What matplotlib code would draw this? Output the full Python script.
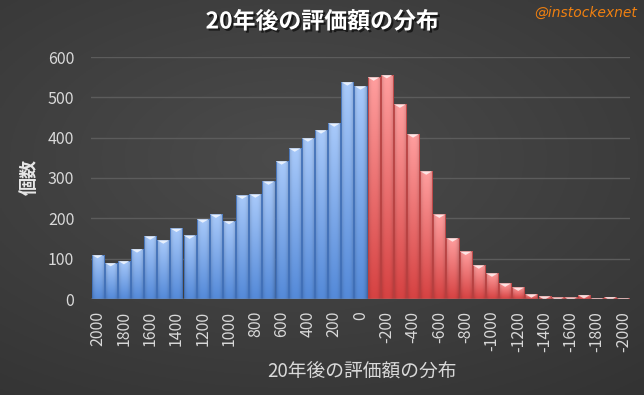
import numpy as np
import matplotlib.pyplot as plt
from matplotlib import patheffects
from matplotlib.patches import Polygon

plt.rcParams['font.family'] = ['Noto Sans CJK JP', 'DejaVu Sans']

# categories: value after 20 years, 2000 .. -2000 step 100
bins = list(range(2000, -2001, -100))
gain_counts = [110, 90, 95, 124, 156, 146, 175, 158, 198, 210, 194,
               257, 260, 292, 342, 374, 399, 419, 436, 538, 528]
loss_counts = [550, 556, 483, 409, 317, 210, 151, 118, 84, 64,
               39, 29, 12, 7, 4, 4, 10, 2, 5, 2]
tick_labels = [str(b) if i % 2 == 0 else '' for i, b in enumerate(bins)]

W, H = 644, 395
fig = plt.figure(figsize=(W / 100, H / 100), dpi=100)

# dark radial background
bg = fig.add_axes([0, 0, 1, 1])
yy, xx = np.mgrid[0:1:200j, 0:1:300j]
r = np.sqrt(((xx - 0.45) / 1.0) ** 2 + ((yy - 0.4) / 0.9) ** 2)
shade = 0.295 - 0.11 * np.clip(r, 0, 1)
bg.imshow(np.dstack([shade] * 3), extent=[0, 1, 0, 1], aspect='auto', origin='upper')
bg.axis('off')

ax = fig.add_axes([91 / W, 1 - 299 / H, 539 / W, 242 / H])
ax.set_facecolor('none')
for s in ax.spines.values():
    s.set_visible(False)

def bar_image(top, bottom, n=60):
    v = np.linspace(1, 0, n)[:, None]
    h = np.linspace(-1, 1, 20)[None, :]
    hf = 1 - 0.18 * np.abs(h) ** 3
    img = bottom[None, None, :] + (top - bottom)[None, None, :] * v[..., None]
    return np.clip(img * hf[..., None], 0, 1)

blue_top, blue_bot = np.array([0.66, 0.79, 0.98]), np.array([0.33, 0.54, 0.85])
red_top, red_bot = np.array([1.0, 0.62, 0.62]), np.array([0.84, 0.26, 0.26])

counts = gain_counts + loss_counts
x = np.arange(len(bins))
bw = 0.92
bars = ax.bar(x, counts, width=bw, color='none', edgecolor='none', zorder=2)
for i, (b, c) in enumerate(zip(bars, counts)):
    is_gain = i < len(gain_counts)
    top, bot = (blue_top, blue_bot) if is_gain else (red_top, red_bot)
    x0 = b.get_x()
    im = ax.imshow(bar_image(top, bot), extent=[x0, x0 + bw, 0, c],
                   aspect='auto', zorder=2, interpolation='bilinear')
    im.set_clip_path(b)
    edge = '#3f6fb8' if is_gain else '#b84040'
    ax.bar(x[i], c, width=bw, color='none', edgecolor=edge, lw=0.6, zorder=3)
    d = 9
    tri = Polygon([[x0, c], [x0 + bw, c], [x0 + bw / 2, c - d]],
                  closed=True, color='white', alpha=0.75, lw=0, zorder=4)
    ax.add_patch(tri)
    tri.set_clip_path(b)

ax.set_xlim(-0.5, len(bins) - 0.5)
ax.set_ylim(0, 600)
ax.set_yticks(range(0, 601, 100))
ax.yaxis.grid(True, color='#5c5c5c', lw=1)
ax.set_axisbelow(True)
ax.set_xticks(x)
ax.set_xticklabels(tick_labels, rotation=90, va='top')
ax.tick_params(axis='both', length=0, colors='#d9d9d9', labelsize=11.5)
ax.tick_params(axis='y', pad=12)
ax.tick_params(axis='x', pad=8.5)
ax.axhline(0, color='#8a8a8a', lw=1, zorder=5)

fig.text(362 / W, 1 - 372 / H, '20年後の評価額の分布', color='#d9d9d9', fontsize=13.5,
         ha='center', va='center')
fig.text(29 / W, 1 - 177 / H, '個数', color='#e8e8e8', fontsize=13,
         fontweight='bold', rotation=90, ha='center', va='center')

fig.text(322 / W, 1 - 22 / H, '20年後の評価額の分布', color='white', fontsize=16.5,
         fontweight='bold', ha='center', va='center',
         path_effects=[patheffects.withSimplePatchShadow(offset=(1.5, -1.5),
                                                         shadow_rgbFace='black', alpha=0.6)])
fig.text(586 / W, 1 - 13 / H, '@instockexnet', color='#f08010', fontsize=10,
         family='DejaVu Sans', style='italic', ha='center', va='center')

fig.savefig('out.png', dpi=100)
